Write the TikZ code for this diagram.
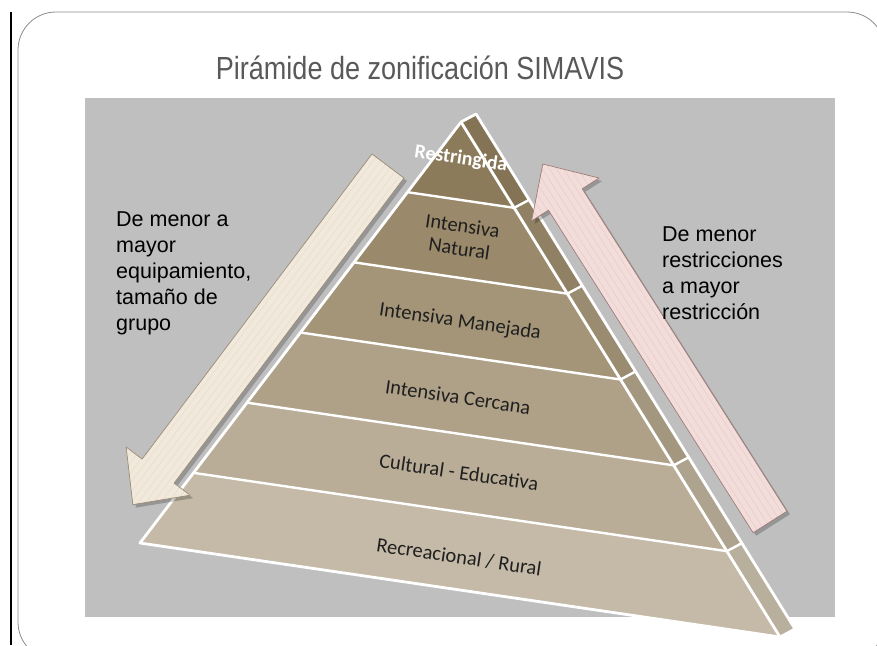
\documentclass[tikz,border=0pt]{standalone}
\usepackage{fontspec}
\setmainfont{Carlito}
\newfontfamily\arialfont{Liberation Sans}
\newfontfamily\titlefont[FakeStretch=0.845]{Liberation Sans}
\usetikzlibrary{calc}
\definecolor{bggray}{HTML}{BFBFBF}
\definecolor{framegray}{HTML}{8C8C8C}
\definecolor{titlegray}{HTML}{595959}
\definecolor{layA}{HTML}{8C7B5A}
\definecolor{layB}{HTML}{9A896A}
\definecolor{layC}{HTML}{A49578}
\definecolor{layD}{HTML}{AFA188}
\definecolor{layE}{HTML}{B9AD97}
\definecolor{layF}{HTML}{C4BAA7}
\definecolor{beigefill}{HTML}{F2E9DD}
\definecolor{beigestripe}{HTML}{E8DCCB}
\definecolor{beigeline}{HTML}{9B8B75}
\definecolor{pinkfill}{HTML}{F2DDDA}
\definecolor{pinkstripe}{HTML}{E8CCC9}
\definecolor{pinkline}{HTML}{A07B78}
\newcommand{\arrowpath}{(0,-20) -- (382,-20) -- (382,-40) -- (424,0) -- (382,40) -- (382,20) -- (0,20) -- cycle}

\begin{document}
\begin{tikzpicture}[x=1pt,y=1pt]
\tikzstyle{every node}+=[inner sep=0pt]
\tikzstyle{edge}=[white, line width=2.8pt, line join=round]
\tikzstyle{seam}=[white, line width=2.4pt, line join=round]
\tikzstyle{layertext}=[font=\fontsize{20.5}{23}\selectfont, text=black!88, align=center, rotate=-8.4]
\tikzstyle{notetext}=[font=\arialfont\fontsize{21.5}{25.8}\selectfont, text=black, align=left]
\tikzstyle{titletext}=[font=\titlefont\fontsize{32}{36}\selectfont, text=titlegray]
\useasboundingbox (0,0) rectangle (877,-645);
\fill [white] (0,0) rectangle (877,-645);
\draw [black, line width=1.2pt] (11,-12) -- (11,-645);
\draw [framegray, line width=0.8pt, rounded corners=38pt] (18,-12) rectangle (885,-660);
\node [titletext, anchor=base] (title) at (420,-79) {Pirámide de zonificación SIMAVIS};
\fill [bggray] (85,-98) rectangle (835,-617);
\coordinate (apex) at (461,-122);
\coordinate (bl) at (140,-543);
\coordinate (br) at (780,-637);
\foreach \i [evaluate=\i as \t using \i/6] in {0,...,6} {
\coordinate (l\i) at ($(apex)!\t!(bl)$);
\coordinate (r\i) at ($(apex)!\t!(br)$);
\coordinate (s\i) at ($(r\i)+(15,8)$);
}
\foreach \i/\j/\c in {0/1/layA,1/2/layB,2/3/layC,3/4/layD,4/5/layE,5/6/layF} {
\fill [\c] (l\i) -- (l\j) -- (r\j) -- (r\i) -- cycle;
\fill [\c!94!black] (r\i) -- (r\j) -- (s\j) -- (s\i) -- cycle;
}
\draw [edge] (s0) -- (apex) -- (bl) -- (br) -- (s6) -- cycle;
\draw [edge] (apex) -- (br);
\foreach \i in {1,...,5} \draw [seam] (l\i) -- (r\i) -- (s\i);
\node [layertext, text=white, font=\bfseries\fontsize{20}{22}\selectfont] (restringida) at (461,-159) {Restringida};
\node [layertext] (natural) at (461,-237) {Intensiva\\Natural};
\node [layertext] (manejada) at (460,-322) {Intensiva Manejada};
\node [layertext] (cercana) at (458,-397) {Intensiva Cercana};
\node [layertext] (cultural) at (459,-472) {Cultural - Educativa};
\node [layertext] (recreacional) at (459,-557) {Recreacional / Rural};
\begin{scope}[shift={(391,-169)}, rotate=-127]
\fill [black, opacity=0.22] \arrowpath;
\end{scope}
\begin{scope}[shift={(388,-166)}, rotate=-127]
\fill [beigefill] \arrowpath;
\begin{scope}
\clip \arrowpath;
\foreach \k in {-39,-33,...,39} \draw [beigestripe, line width=0.5pt] (0,\k) -- (424,\k);
\end{scope}
\draw [beigeline, line width=0.7pt, line join=round] \arrowpath;
\end{scope}
\begin{scope}[shift={(773,-525)}, rotate=122.4]
\fill [black, opacity=0.22] \arrowpath;
\end{scope}
\begin{scope}[shift={(770,-522)}, rotate=122.4]
\fill [pinkfill] \arrowpath;
\begin{scope}
\clip \arrowpath;
\foreach \k in {-39,-33,...,39} \draw [pinkstripe, line width=0.5pt] (0,\k) -- (424,\k);
\end{scope}
\draw [pinkline, line width=0.7pt, line join=round] \arrowpath;
\end{scope}
\node [notetext, anchor=north west] (leftnote) at (116,-212) {De menor a\\mayor\\equipamiento,\\tamaño de\\grupo};
\node [notetext, anchor=north west] (rightnote) at (662,-227) {De menor\\restricciones\\a mayor\\restricción};
\end{tikzpicture}
\end{document}
